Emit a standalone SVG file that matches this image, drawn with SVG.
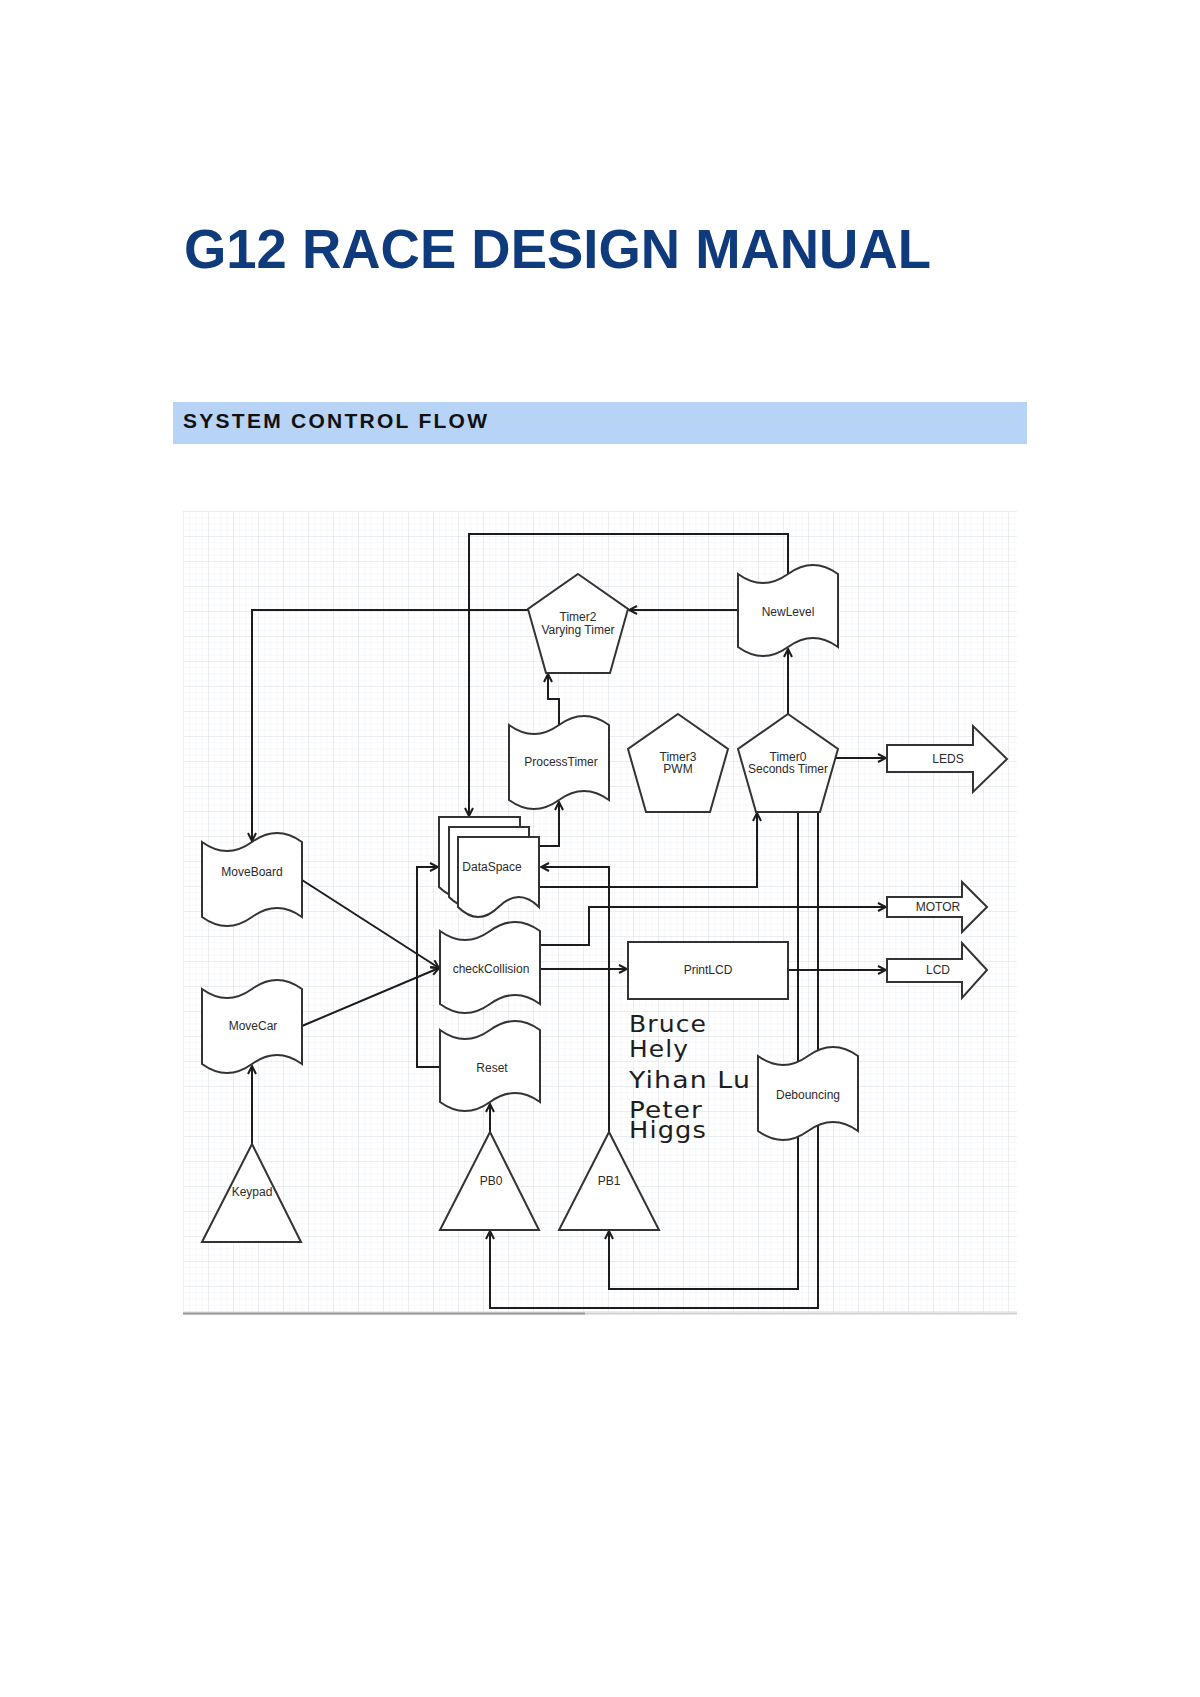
<svg xmlns="http://www.w3.org/2000/svg" width="1200" height="1697" viewBox="0 0 1200 1697">
<style>
.shape{fill:#ffffff;stroke:#333333;stroke-width:2;stroke-linejoin:miter}
.conn{fill:none;stroke:#1c1c1c;stroke-width:2}
.lbl{font-family:"Liberation Sans",Arial,sans-serif;font-size:12px;fill:#2a2a2a;text-anchor:middle}
.name{font-family:"DejaVu Sans","Noto Sans",sans-serif;font-size:23px;fill:#1e1e1e;letter-spacing:1px}
</style>
<defs>
<marker id="arr" viewBox="0 0 10 10" refX="9" refY="5" markerWidth="10" markerHeight="10" markerUnits="userSpaceOnUse" orient="auto">
<path d="M1,1 L9,5 L1,9" fill="none" stroke="#1c1c1c" stroke-width="2"/>
</marker>
<pattern id="gminor" x="183" y="511" width="6.25" height="6.25" patternUnits="userSpaceOnUse">
<path d="M6.25,0 L0,0 L0,6.25" fill="none" stroke="#eef0f5" stroke-width="1"/>
</pattern>
<pattern id="gmajor" x="183" y="511" width="25" height="25" patternUnits="userSpaceOnUse">
<path d="M25,0 L0,0 L0,25" fill="none" stroke="#e0e3eb" stroke-width="1"/>
</pattern>
</defs>
<rect x="0" y="0" width="1200" height="1697" fill="#ffffff"/>

<text x="184" y="268" font-family="Liberation Sans, Arial, sans-serif" font-weight="bold" font-size="55" fill="#0f3b7d" textLength="747" lengthAdjust="spacingAndGlyphs">G12 RACE DESIGN MANUAL</text>
<rect x="173" y="402" width="854" height="42" fill="#b7d3f6"/>
<text x="183" y="428" font-family="Liberation Sans, Arial, sans-serif" font-weight="bold" font-size="21" fill="#111111" textLength="304" lengthAdjust="spacing">SYSTEM CONTROL FLOW</text>

<g id="grid">
<rect x="183" y="511" width="834" height="802" fill="url(#gminor)"/>
<rect x="183" y="511" width="834" height="802" fill="url(#gmajor)"/>
<line x1="183" y1="1313.5" x2="1017" y2="1313.5" stroke="#cfcfcf" stroke-width="2"/>
<line x1="183" y1="1313.5" x2="585" y2="1313.5" stroke="#9a9a9a" stroke-width="2"/>
</g>

<g id="connectors">
<path class="conn" d="M788,574 L788,534 L469,534 L469,816" marker-end="url(#arr)"/>
<path class="conn" d="M738,610 L629,610" marker-end="url(#arr)"/>
<path class="conn" d="M528,610 L252,610 L252,841" marker-end="url(#arr)"/>
<path class="conn" d="M559,725 L559,699 L548,699 L548,674" marker-end="url(#arr)"/>
<path class="conn" d="M539,846 L559,846 L559,802" marker-end="url(#arr)"/>
<path class="conn" d="M788,714 L788,649" marker-end="url(#arr)"/>
<path class="conn" d="M836,758 L886,758" marker-end="url(#arr)"/>
<path class="conn" d="M539,887 L757,887 L757,813" marker-end="url(#arr)"/>
<path class="conn" d="M540,945 L589,945 L589,907 L886,907" marker-end="url(#arr)"/>
<path class="conn" d="M540,969 L627,969" marker-end="url(#arr)"/>
<path class="conn" d="M788,970 L886,970" marker-end="url(#arr)"/>
<path class="conn" d="M302,880 L439,968" marker-end="url(#arr)"/>
<path class="conn" d="M302,1026 L439,968" marker-end="url(#arr)"/>
<path class="conn" d="M252,1144 L252,1066" marker-end="url(#arr)"/>
<path class="conn" d="M440,1067 L417,1067 L417,867 L438,867" marker-end="url(#arr)"/>
<path class="conn" d="M609,1132 L609,867 L541,867" marker-end="url(#arr)"/>
<path class="conn" d="M490,1132 L490,1104" marker-end="url(#arr)"/>
<path class="conn" d="M798,812 L798,1289 L609,1289 L609,1231" marker-end="url(#arr)"/>
<path class="conn" d="M818,812 L818,1308 L490,1308 L490,1231" marker-end="url(#arr)"/>
</g>

<g id="timer2">
<path class="shape" d="M578,574 L628,609 L610,673 L546,673 L528,609 Z"/>
<text class="lbl" x="578" y="621">Timer2</text>
<text class="lbl" x="578" y="634">Varying Timer</text>
</g>
<g id="newlevel">
<path class="shape" d="M738,574 Q763,592 788,574 Q813,556 838,574 L838,647 Q813,629 788,647 Q763,665 738,647 Z"/>
<text class="lbl" x="788" y="616">NewLevel</text>
</g>
<g id="processtimer">
<path class="shape" d="M509,725 Q534,743 559,725 Q584,707 609,725 L609,800 Q584,782 559,800 Q534,818 509,800 Z"/>
<text class="lbl" x="561" y="766">ProcessTimer</text>
</g>
<g id="timer3">
<path class="shape" d="M678,714 L728,749 L710,812 L646,812 L628,749 Z"/>
<text class="lbl" x="678" y="761">Timer3</text>
<text class="lbl" x="678" y="773">PWM</text>
</g>
<g id="timer0">
<path class="shape" d="M788,714 L838,749 L820,812 L756,812 L738,749 Z"/>
<text class="lbl" x="788" y="761">Timer0</text>
<text class="lbl" x="788" y="773">Seconds Timer</text>
</g>
<g id="leds">
<path class="shape" d="M887,745 L973,745 L973,726 L1007,759 L973,792 L973,772 L887,772 Z"/>
<text class="lbl" x="948" y="763">LEDS</text>
</g>
<g id="motor">
<path class="shape" d="M887,897 L962,897 L962,882 L987,907 L962,932 L962,917 L887,917 Z"/>
<text class="lbl" x="938" y="911">MOTOR</text>
</g>
<g id="lcd">
<path class="shape" d="M887,959 L962,959 L962,943 L987,970 L962,998 L962,982 L887,982 Z"/>
<text class="lbl" x="938" y="974">LCD</text>
</g>
<g id="dataspace">
<path class="shape" d="M439,817 L520,817 L520,887 Q499.75,867 479.5,887 Q459.25,907 439,887 Z"/>
<path class="shape" d="M449,827 L529,827 L529,897 Q509,877 489,897 Q469,917 449,897 Z"/>
<path class="shape" d="M458,837 L539,837 L539,907 Q518.75,887 498.5,907 Q478.25,927 458,907 Z"/>
<text class="lbl" x="492" y="871">DataSpace</text>
</g>
<g id="checkcollision">
<path class="shape" d="M440,931 Q465,949 490,931 Q515,913 540,931 L540,1004 Q515,986 490,1004 Q465,1022 440,1004 Z"/>
<text class="lbl" x="491" y="973">checkCollision</text>
</g>
<g id="reset">
<path class="shape" d="M440,1030 Q465,1048 490,1030 Q515,1012 540,1030 L540,1102 Q515,1084 490,1102 Q465,1120 440,1102 Z"/>
<text class="lbl" x="492" y="1072">Reset</text>
</g>
<g id="printlcd">
<rect class="shape" x="628" y="942" width="160" height="57"/>
<text class="lbl" x="708" y="974">PrintLCD</text>
</g>
<g id="moveboard">
<path class="shape" d="M202,842 Q227,860 252,842 Q277,824 302,842 L302,917 Q277,899 252,917 Q227,935 202,917 Z"/>
<text class="lbl" x="252" y="876">MoveBoard</text>
</g>
<g id="movecar">
<path class="shape" d="M202,989 Q227,1007 252,989 Q277,971 302,989 L302,1064 Q277,1046 252,1064 Q227,1082 202,1064 Z"/>
<text class="lbl" x="253" y="1030">MoveCar</text>
</g>
<g id="debouncing">
<path class="shape" d="M758,1056 Q783,1074 808,1056 Q833,1038 858,1056 L858,1131 Q833,1113 808,1131 Q783,1149 758,1131 Z"/>
<text class="lbl" x="808" y="1099">Debouncing</text>
</g>
<g id="keypad">
<path class="shape" d="M252,1144 L301,1242 L202,1242 Z"/>
<text class="lbl" x="252" y="1196">Keypad</text>
</g>
<g id="pb0">
<path class="shape" d="M490,1132 L539,1230 L440,1230 Z"/>
<text class="lbl" x="491" y="1185">PB0</text>
</g>
<g id="pb1">
<path class="shape" d="M609,1132 L659,1230 L559,1230 Z"/>
<text class="lbl" x="609" y="1185">PB1</text>
</g>
<g id="names">
<text class="name" x="629" y="1032" textLength="78" lengthAdjust="spacingAndGlyphs">Bruce</text>
<text class="name" x="629" y="1057" textLength="60" lengthAdjust="spacingAndGlyphs">Hely</text>
<text class="name" x="629" y="1088" textLength="122" lengthAdjust="spacingAndGlyphs">Yihan Lu</text>
<text class="name" x="629" y="1118" textLength="74" lengthAdjust="spacingAndGlyphs">Peter</text>
<text class="name" x="629" y="1138" textLength="78" lengthAdjust="spacingAndGlyphs">Higgs</text>
</g>
</svg>
